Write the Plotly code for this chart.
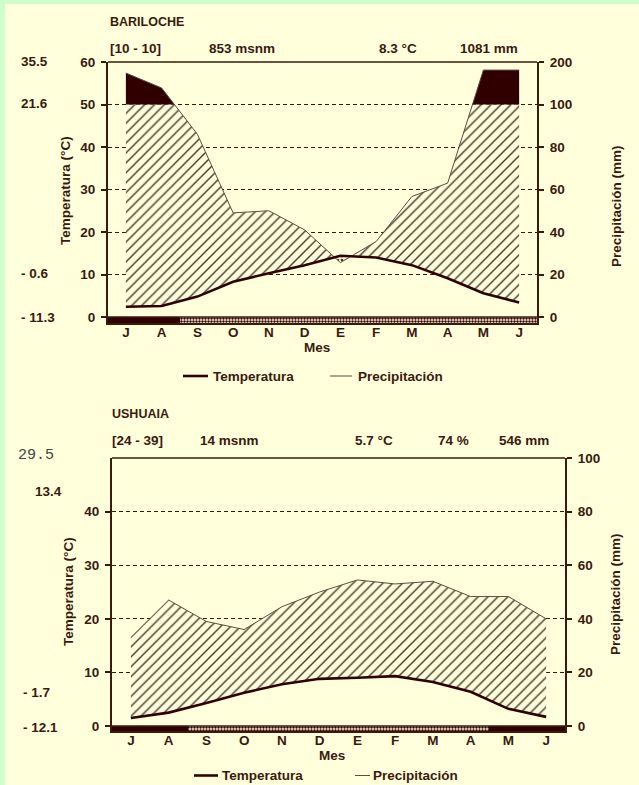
import numpy as np
import plotly.graph_objects as go

# ---------------- data ----------------
months = ["J", "A", "S", "O", "N", "D", "E", "F", "M", "A", "M", "J"]

bar_name = "BARILOCHE"
bar_info = ["[10 - 10]", "853 msnm", "8.3 °C", "1081 mm"]
bar_temp = [2.4, 2.6, 4.8, 8.3, 10.3, 12.2, 14.4, 14.0, 12.2, 9.1, 5.6, 3.4]
bar_prec = [174, 139, 86, 49, 50, 41, 25.6, 35.5, 56.7, 63, 181, 181]
bar_frost = ["seguro", "seguro"] + ["probable"] * 10
bar_side = ["35.5", "21.6", "- 0.6", "- 11.3"]
bar_prec_ticks = [0, 20, 40, 60, 80, 100, 200]
bar_temp_ticks = [0, 10, 20, 30, 40, 50, 60]

ush_name = "USHUAIA"
ush_info = ["[24 - 39]", "14 msnm", "5.7 °C", "74 %", "546 mm"]
ush_temp = [1.5, 2.5, 4.3, 6.2, 7.8, 8.8, 9.0, 9.3, 8.2, 6.4, 3.2, 1.7]
ush_prec = [33, 47, 39, 36, 44.5, 50, 54.5, 53, 54, 48.3, 48.3, 40]
ush_frost = ["seguro"] * 2 + ["probable"] * 8 + ["seguro"] * 2
ush_side = ["29.5", "13.4", "- 1.7", "- 12.1"]
ush_prec_ticks = [0, 20, 40, 60, 80, 100]
ush_temp_ticks = [0, 10, 20, 30, 40]

# ---------------- style ----------------
W, H = 639, 785
YEL = "#FFFFDC"
GREEN = "#CCFFCC"
DARK = "#300000"
TXT = "#3b1a0e"
HATCH = "#45362e"
PLINE = "#5e4c3e"
FONT = "Liberation Sans, Arial, sans-serif"
CAP = 50.0


def px(x):
    return x / W


def py(y):
    return 1 - y / H


def pscale(p):
    p = np.asarray(p, float)
    return np.where(p <= 100, p / 2.0, CAP + (p - 100) / 10.0)


def merge(t, q, cap=CAP):
    t = np.asarray(t, float)
    q = np.asarray(q, float)
    xs, ts, qs = [], [], []
    n = len(t)
    for i in range(n):
        xs.append(float(i)); ts.append(t[i]); qs.append(q[i])
        if i == n - 1:
            break
        fr = []
        d0, d1 = q[i] - t[i], q[i + 1] - t[i + 1]
        if d0 * d1 < 0:
            fr.append(d0 / (d0 - d1))
        c0, c1 = q[i] - cap, q[i + 1] - cap
        if c0 * c1 < 0:
            fr.append(c0 / (c0 - c1))
        for f in sorted(fr):
            xs.append(i + f)
            ts.append(t[i] + f * (t[i + 1] - t[i]))
            qs.append(q[i] + f * (q[i + 1] - q[i]))
    return np.array(xs), np.array(ts), np.array(qs)


fig = go.Figure()


def add_station(temp, prec, frost, xa, ya, ys):
    q = pscale(prec)
    xs, ts, qs = merge(temp, q)
    hatch_up = np.minimum(np.maximum(qs, ts), CAP)
    dry_lo = np.minimum(qs, ts)
    wet_up = np.maximum(qs, CAP)
    inv = dict(width=0)
    common = dict(xaxis=xa, yaxis=ya, mode="lines", hoverinfo="skip", showlegend=False)
    # hatched humid period
    fig.add_trace(go.Scatter(x=xs, y=ts, line=inv, **common))
    fig.add_trace(go.Scatter(x=xs, y=hatch_up, line=inv, fill="tonexty", fillcolor=YEL,
                             fillpattern=dict(shape="/", fgcolor=HATCH, bgcolor=YEL,
                                              size=7, solidity=0.2), **common))
    # dotted dry period
    fig.add_trace(go.Scatter(x=xs, y=dry_lo, line=inv, **common))
    fig.add_trace(go.Scatter(x=xs, y=ts, line=inv, fill="tonexty", fillcolor=YEL,
                             fillpattern=dict(shape=".", fgcolor=HATCH, bgcolor=YEL,
                                              size=4, solidity=0.35), **common))
    # very humid period (> 100 mm)
    if np.any(qs > CAP):
        fig.add_trace(go.Scatter(x=xs, y=np.full_like(xs, CAP), line=inv, **common))
        fig.add_trace(go.Scatter(x=xs, y=wet_up, line=inv, fill="tonexty",
                                 fillcolor=DARK, **common))
    idx = list(range(len(months)))
    fig.add_trace(go.Scatter(x=idx, y=q, line=dict(color=PLINE, width=1), **common))
    fig.add_trace(go.Scatter(x=idx, y=temp, line=dict(color=DARK, width=2.6), **common))
    # frost strip: sure frost (solid) and probable frost (dotted)
    sure_x = [i for i, f in zip(idx, frost) if f == "seguro"]
    prob_x = [i for i, f in zip(idx, frost) if f == "probable"]
    fig.add_trace(go.Bar(x=prob_x, y=[1] * len(prob_x), width=1.03, xaxis=xa, yaxis=ys,
                         hoverinfo="skip", showlegend=False,
                         marker=dict(color="#b8a898", line=dict(width=0),
                                     pattern=dict(shape=".", fgcolor=DARK, bgcolor=YEL,
                                                  fillmode="replace", size=3, solidity=0.5))))
    fig.add_trace(go.Bar(x=sure_x, y=[1] * len(sure_x), width=1.03, xaxis=xa, yaxis=ys,
                         hoverinfo="skip", showlegend=False,
                         marker=dict(color=DARK, line=dict(width=0))))


add_station(bar_temp, bar_prec, bar_frost, "x", "y", "y3")
add_station(ush_temp, ush_prec, ush_frost, "x2", "y4", "y6")

tickfont = dict(family=FONT, size=13.5, color=TXT, weight="bold")
ax_common = dict(showline=True, linecolor=TXT, linewidth=2, zeroline=False,
                 automargin=False, tickfont=tickfont, fixedrange=True)
ygrid = dict(showgrid=True, gridcolor=TXT, gridwidth=1, griddash="4px,3px")


def xaxis(dom, anchor):
    return dict(domain=dom, anchor=anchor, range=[-0.5, len(months) - 0.5],
                tickvals=list(range(len(months))), ticktext=months, ticks="",
                showgrid=False, ticklabelstandoff=-4, **ax_common)


bar_dom_x = [px(108), px(537)]
ush_dom_x = [px(112), px(565)]

fig.update_layout(
    width=W, height=H, margin=dict(l=0, r=0, t=0, b=0), template="none",
    paper_bgcolor=YEL, plot_bgcolor="rgba(0,0,0,0)", barmode="overlay",
    showlegend=False,
)

fig.update_layout(
    xaxis=xaxis(bar_dom_x, "y3"),
    xaxis2=xaxis(ush_dom_x, "y6"),
    yaxis=dict(domain=[py(317), py(62)], anchor="x", range=[0, 60],
               tickvals=bar_temp_ticks, ticks="outside", ticklen=5, tickwidth=1.5,
               tickcolor=TXT, ticklabelstandoff=3, **ygrid, **ax_common),
    yaxis2=dict(overlaying="y", anchor="x", side="right", range=[0, 60],
                tickvals=list(pscale(bar_prec_ticks)), ticktext=[str(v) for v in bar_prec_ticks],
                ticks="outside", ticklen=5, tickwidth=1.5, tickcolor=TXT,
                ticklabelstandoff=3, showgrid=False, **ax_common),
    yaxis3=dict(domain=[py(323), py(317)], anchor="x", range=[0, 1], mirror=True,
                showticklabels=False, ticks="", showgrid=False, **ax_common),
    yaxis4=dict(domain=[py(726), py(458)], anchor="x2", range=[0, 50],
                tickvals=ush_temp_ticks, ticks="outside", ticklen=5, tickwidth=1.5,
                tickcolor=TXT, ticklabelstandoff=3, **ygrid, **ax_common),
    yaxis5=dict(overlaying="y4", anchor="x2", side="right", range=[0, 50],
                tickvals=list(pscale(ush_prec_ticks)), ticktext=[str(v) for v in ush_prec_ticks],
                ticks="outside", ticklen=5, tickwidth=1.5, tickcolor=TXT,
                ticklabelstandoff=3, showgrid=False, **ax_common),
    yaxis6=dict(domain=[py(731), py(726)], anchor="x2", range=[0, 1], mirror=True,
                showticklabels=False, ticks="", showgrid=False, **ax_common),
)

# invisible traces so that the right axes render
fig.add_trace(go.Scatter(x=[0], y=[0], xaxis="x", yaxis="y2", mode="markers",
                         marker=dict(opacity=0), hoverinfo="skip", showlegend=False))
fig.add_trace(go.Scatter(x=[0], y=[0], xaxis="x2", yaxis="y5", mode="markers",
                         marker=dict(opacity=0), hoverinfo="skip", showlegend=False))

shapes = [
    dict(type="rect", xref="paper", yref="paper", x0=0, x1=px(5), y0=0, y1=1,
         fillcolor=GREEN, line=dict(width=0), layer="below"),
    dict(type="rect", xref="paper", yref="paper", x0=0, x1=1, y0=py(4), y1=1,
         fillcolor=GREEN, line=dict(width=0), layer="below"),
]
for xr, yr in (("x", "y"), ("x2", "y4")):
    for yv in (0, 1):
        shapes.append(dict(type="line", xref=f"{xr} domain", yref=f"{yr} domain",
                           x0=0, x1=1, y0=yv, y1=yv, line=dict(color=TXT, width=1.5)))
# legend samples
for (x0, x1, y, w) in ((183, 208, 376, 2.6), (330, 352, 376, 1),
                       (194, 218, 775.5, 2.6), (355, 370, 775.5, 1)):
    shapes.append(dict(type="line", xref="paper", yref="paper", x0=px(x0), x1=px(x1),
                       y0=py(y), y1=py(y), line=dict(color=DARK if w > 2 else PLINE, width=w)))
fig.update_layout(shapes=shapes)

ann = []


def txt(x, y, s, size=13.5, xanchor="left", angle=0, family=FONT, color=TXT, weight="bold"):
    ann.append(dict(x=px(x), y=py(y), xref="paper", yref="paper", text=s, showarrow=False,
                    xanchor=xanchor, yanchor="middle", textangle=angle, borderpad=0,
                    font=dict(family=family, size=size, color=color, weight=weight)))


# Bariloche
txt(109, 21.7, bar_name, size=12.5)
for x, s in zip((109, 208, 378, 459), bar_info):
    txt(x, 48.5, s)
for y, s in zip((62, 104, 273.3, 317.3), bar_side):
    txt(20, y, s)
txt(66, 191, "Temperatura (°C)", xanchor="center", angle=-90)
txt(617, 206, "Precipitación (mm)", xanchor="center", angle=-90)
txt(317, 347.3, "Mes", xanchor="center")
txt(212, 376, "Temperatura")
txt(357, 376, "Precipitación")

# Ushuaia
txt(111, 414, ush_name, size=12.5)
for x, s in zip((111, 198.5, 353.5, 436.5, 497.5), ush_info):
    txt(x, 440.7, s)
txt(16.5, 455, ush_side[0], size=15, family="Liberation Mono, monospace", color="#444444",
    weight="normal")
for x, y, s in zip((34, 22, 22), (491, 692.7, 727), ush_side[1:]):
    txt(x, y, s)
txt(68, 592, "Temperatura (°C)", xanchor="center", angle=-90)
txt(615, 594, "Precipitación (mm)", xanchor="center", angle=-90)
txt(331.5, 755.7, "Mes", xanchor="center")
txt(221, 775.5, "Temperatura")
txt(372, 775.5, "Precipitación")

fig.update_layout(annotations=ann)

fig.write_html("out.html", config={"displayModeBar": False},
               post_script="document.body.style.margin='0';document.body.style.overflow='hidden';")
